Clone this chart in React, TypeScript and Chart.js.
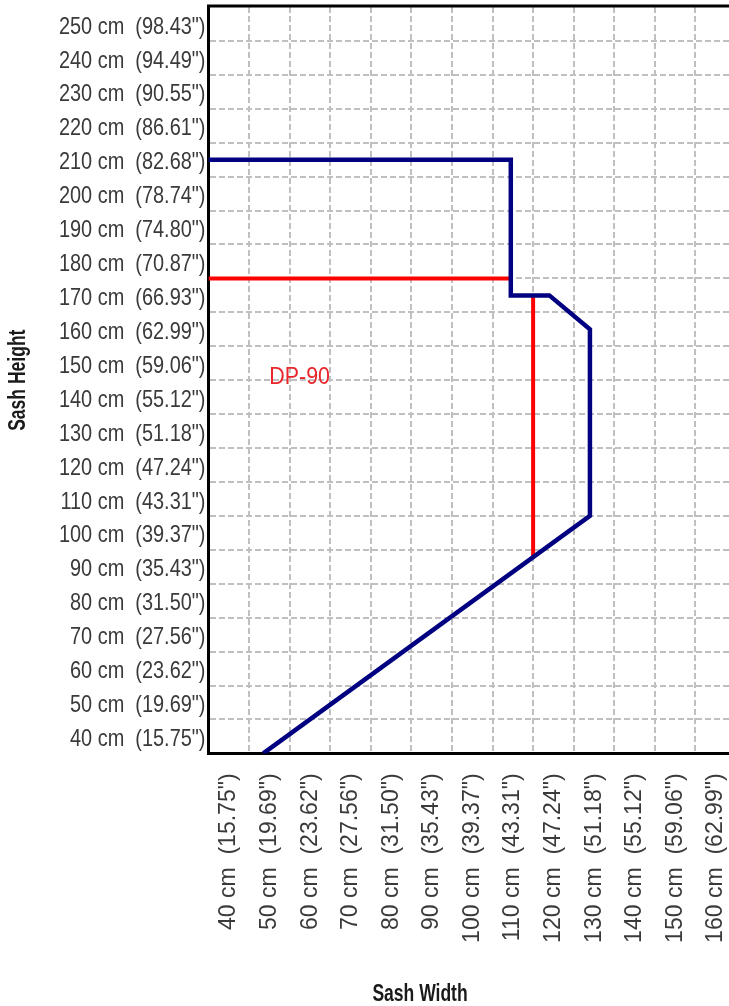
import React, { useEffect, useRef } from 'react';
import { Chart, registerables } from 'chart.js';

Chart.register(...registerables);

// ---- Data ----
const widthCm = [40, 50, 60, 70, 80, 90, 100, 110, 120, 130, 140, 150, 160];
const widthIn = ['15.75', '19.69', '23.62', '27.56', '31.50', '35.43', '39.37', '43.31', '47.24', '51.18', '55.12', '59.06', '62.99'];

const heightCm = [250, 240, 230, 220, 210, 200, 190, 180, 170, 160, 150, 140, 130, 120, 110, 100, 90, 80, 70, 60, 50, 40];
const heightIn = ['98.43', '94.49', '90.55', '86.61', '82.68', '78.74', '74.80', '70.87', '66.93', '62.99', '59.06', '55.12', '51.18', '47.24', '43.31', '39.37', '35.43', '31.50', '27.56', '23.62', '19.69', '15.75'];

const xRange = [35, 165];
const yRange = [35, 255];
const halfStep = 5;

// Blue outline (maximum sash envelope)
const blueX = [35, 109.5, 109.5, 119, 129, 129, 48.5];
const blueY = [210, 210, 170, 170, 160, 105, 35];

// Red DP-90 limits
const redHX = [35, 109.5];
const redHY = [175, 175];
const redVX = [115, 115];
const redVY = [170, 93];

const annotationText = 'DP-90';
const annotationX = 50;
const annotationY = 145.8;

const xTitle = 'Sash Width';
const yTitle = 'Sash Height';

// Font stacks (each stack gets its own horizontal condensing factor)
const FONT_Y_TICKS = '"Liberation Sans", Helvetica';
const FONT_X_TICKS = '"Liberation Sans", Arial';
const FONT_TITLE = '"Liberation Sans", sans-serif';
const FONT_NOTE = '"Liberation Sans", Verdana';
const condense: [string, number][] = [
  ['Helvetica', 0.83],
  ['Arial', 0.96],
  ['sans-serif', 0.73],
  ['Verdana', 0.93],
];

const xLabels = new Map<number, string>(widthCm.map((c, i) => [c, `${c} cm  (${widthIn[i]}")`]));
const yLabels = new Map<number, string>(heightCm.map((c, i) => [c, `${c} cm  (${heightIn[i]}")`]));

function cellTicks(centers: number[], min: number, max: number) {
  const vals = new Set<number>();
  centers.forEach((c) => {
    vals.add(c);
    vals.add(c - halfStep);
    vals.add(c + halfStep);
  });
  return [...vals]
    .filter((v) => v >= min && v <= max)
    .sort((a, b) => a - b)
    .map((value) => ({ value }));
}

const toPoints = (xs: number[], ys: number[]) => xs.map((x, i) => ({ x, y: ys[i] }));

const framePlugin = {
  id: 'frameAndText',
  afterDraw(chart: any) {
    const { ctx, chartArea, scales } = chart;
    ctx.save();
    ctx.strokeStyle = '#000';
    ctx.lineWidth = 3;
    ctx.beginPath();
    ctx.moveTo(chartArea.left - 1.5, chartArea.top - 1);
    ctx.lineTo(chartArea.right, chartArea.top - 1);
    ctx.stroke();

    ctx.fillStyle = '#e8262b';
    ctx.font = `23px ${FONT_NOTE}`;
    ctx.textAlign = 'left';
    ctx.textBaseline = 'middle';
    ctx.fillText(annotationText, scales.x.getPixelForValue(annotationX), scales.y.getPixelForValue(annotationY));

    ctx.fillStyle = '#1a1a1a';
    ctx.font = `bold 24px ${FONT_TITLE}`;
    ctx.textAlign = 'center';
    ctx.textBaseline = 'alphabetic';
    ctx.fillText(xTitle, 420, 1001);
    ctx.restore();
  },
};

const gridColor = (labels: Map<number, string>, range: number[]) => (ctx: any) => {
  const v = ctx.tick ? ctx.tick.value : NaN;
  if (labels.has(v) || v === range[0] || v === range[1]) return 'rgba(0,0,0,0)';
  return '#c0c0c0';
};

export default function App() {
  const ref = useRef<HTMLCanvasElement | null>(null);

  useEffect(() => {
    const canvas = ref.current;
    if (!canvas) return;
    const c2d = canvas.getContext('2d') as any;
    const rawFill = CanvasRenderingContext2D.prototype.fillText;
    c2d.fillText = function (text: string, x: number, y: number, maxWidth?: number) {
      const f = String(c2d.font);
      let k = 1;
      for (const [key, val] of condense) {
        if (f.includes(key)) {
          k = val;
          break;
        }
      }
      c2d.save();
      c2d.translate(x, y);
      c2d.scale(k, 1);
      if (maxWidth === undefined) rawFill.call(c2d, text, 0, 0);
      else rawFill.call(c2d, text, 0, 0, maxWidth / k);
      c2d.restore();
    };

    const chart = new Chart(canvas, {
      type: 'scatter',
      data: {
        datasets: [
          {
            data: toPoints(blueX, blueY),
            showLine: true,
            borderColor: '#000080',
            borderWidth: 4.5,
            pointRadius: 0,
            borderJoinStyle: 'miter',
            fill: false,
          },
          {
            data: toPoints(redHX, redHY),
            showLine: true,
            borderColor: '#ff0000',
            borderWidth: 4,
            pointRadius: 0,
            fill: false,
          },
          {
            data: toPoints(redVX, redVY),
            showLine: true,
            borderColor: '#ff0000',
            borderWidth: 4,
            pointRadius: 0,
            fill: false,
          },
        ],
      } as any,
      options: {
        responsive: false,
        animation: false,
        devicePixelRatio: 1,
        events: [],
        layout: { padding: { top: 7, left: 0, right: 0, bottom: 0 } },
        plugins: { legend: { display: false }, tooltip: { enabled: false } },
        scales: {
          x: {
            type: 'linear',
            min: xRange[0],
            max: xRange[1],
            afterBuildTicks: (scale: any) => {
              scale.ticks = cellTicks(widthCm, xRange[0], xRange[1]);
            },
            afterFit: (scale: any) => {
              scale.height = 252.6;
              scale.paddingLeft = 0;
              scale.paddingRight = 0;
            },
            grid: { color: gridColor(xLabels, xRange), lineWidth: 2, drawTicks: false },
            border: { color: '#000', width: 3, dash: [6, 3] },
            ticks: {
              autoSkip: false,
              minRotation: 90,
              maxRotation: 90,
              padding: 20,
              color: '#3a3a3a',
              font: { family: FONT_X_TICKS, size: 24 },
              callback: (v: any) => xLabels.get(Number(v)) ?? '',
            },
          },
          y: {
            type: 'linear',
            min: yRange[0],
            max: yRange[1],
            afterBuildTicks: (scale: any) => {
              scale.ticks = cellTicks(heightCm, yRange[0], yRange[1]);
            },
            afterFit: (scale: any) => {
              scale.width = 208.5;
              scale.paddingTop = 0;
              scale.paddingBottom = 0;
            },
            grid: { color: gridColor(yLabels, yRange), lineWidth: 2, drawTicks: false },
            border: { color: '#000', width: 3, dash: [6, 3] },
            title: {
              display: true,
              text: yTitle,
              color: '#1a1a1a',
              font: { family: FONT_TITLE, size: 24, weight: 'bold' },
              padding: { top: 4, bottom: 0 },
            },
            ticks: {
              autoSkip: false,
              padding: 3,
              labelOffset: 3,
              color: '#3a3a3a',
              font: { family: FONT_Y_TICKS, size: 24 },
              callback: (v: any) => yLabels.get(Number(v)) ?? '',
            },
          },
        },
      } as any,
      plugins: [framePlugin],
    });
    return () => {
      chart.destroy();
      delete c2d.fillText;
    };
  }, []);

  return (
    <div style={{ position: 'absolute', left: 0, top: 0, width: 729, height: 1006, overflow: 'hidden', background: '#fff' }}>
      <canvas ref={ref} width={736} height={1006} style={{ display: 'block' }} />
    </div>
  );
}
